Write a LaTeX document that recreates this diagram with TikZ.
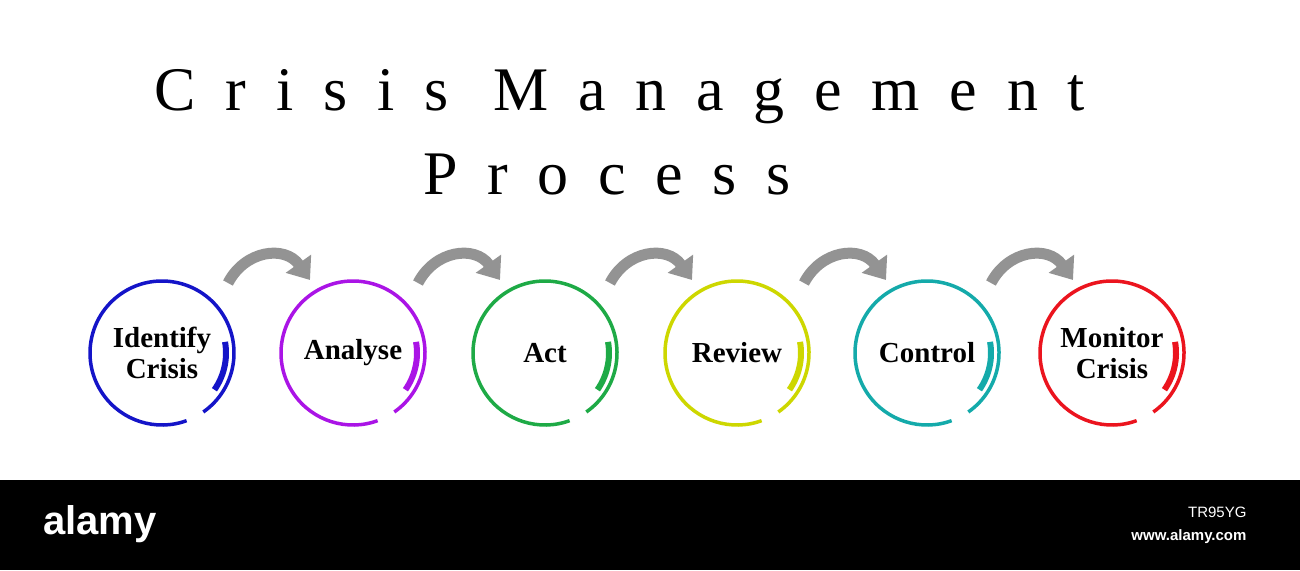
\documentclass[tikz,border=0pt]{standalone}
\usepackage{fontspec}
\setmainfont{Liberation Serif}
\newfontfamily\titlefont[LetterSpace=48]{Liberation Serif}
\newfontfamily\wmfont{Liberation Sans}
\usetikzlibrary{arrows.meta}
\definecolor{cA}{RGB}{20,20,200}
\definecolor{cB}{RGB}{170,20,230}
\definecolor{cC}{RGB}{30,170,70}
\definecolor{cD}{RGB}{205,215,0}
\definecolor{cE}{RGB}{20,170,170}
\definecolor{cF}{RGB}{235,20,30}
\tikzset{lbl/.style={font=\bfseries\fontsize{29}{31}\selectfont,align=center},
 garrow/.style={draw=gray!85,line width=11pt,-{Triangle[length=20pt,width=30pt]}}}
\begin{document}
\begin{tikzpicture}[x=1pt,y=-1pt]
\useasboundingbox (0,0) rectangle (1300,570);
\fill[white] (0,0) rectangle (1300,480);
\node[font=\titlefont\fontsize{62}{64}\selectfont] (t1) at (620,97) {Crisis Management};
\node[font=\titlefont\fontsize{62}{64}\selectfont] (t2) at (607,175) {Process};
\foreach \n/\x/\c/\t in {a/162/cA/{Identify\\Crisis},b/353/cB/Analyse,c/545/cC/Act,d/737/cD/Review,e/927/cE/Control,f/1112/cF/{Monitor\\Crisis}}{
  \node[lbl] (\n) at (\x,353) {\t};
  \draw[\c,line width=3.5pt] (\x,353) ++(55:72) arc[start angle=55,end angle=-290,radius=72];
  \draw[\c,line width=6pt] (\x,353) ++(35:64) arc[start angle=35,end angle=-10,radius=64];
}
\foreach \x in {0,190,382,576,763}{
  \draw[garrow] (228+\x,283) .. controls (245+\x,250) and (285+\x,245) .. (310+\x,280);
}
\fill[black] (0,480) rectangle (1300,570);
\node[white,font=\wmfont\bfseries\fontsize{40}{42}\selectfont] (wm) at (100,524) {alamy};
\node[white,font=\wmfont\fontsize{15}{17}\selectfont,anchor=east] (id) at (1250,512) {TR95YG};
\node[white,font=\wmfont\bfseries\fontsize{15}{17}\selectfont,anchor=east] (url) at (1250,537) {www.alamy.com};
\end{tikzpicture}
\end{document}
